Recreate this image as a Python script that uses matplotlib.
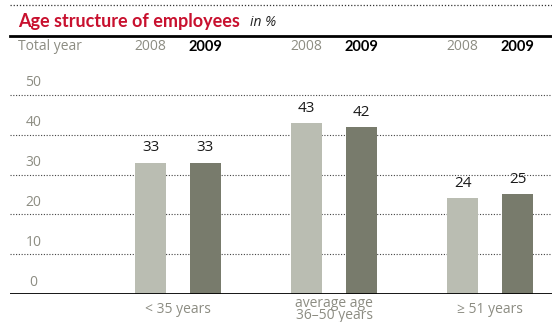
import matplotlib.pyplot as plt
from matplotlib.lines import Line2D

plt.rcParams['font.family'] = ['Open Sans', 'DejaVu Sans']

# data
groups = ['< 35 years', 'average age\n36\u201350 years', '\u2265 51 years']
years = ['2008', '2009']
vals_2008 = [33, 43, 24]
vals_2009 = [33, 42, 25]
yticks = [0, 10, 20, 30, 40, 50]

c2008 = '#babdb2'
c2009 = '#787b6c'
grey = '#8c8c82'
red = '#c8102e'
bold_font = ['Lato', 'DejaVu Sans']

W, H = 552, 322
fig = plt.figure(figsize=(W / 100, H / 100), dpi=100)

# main axes in pixel coords: x 10..552, baseline at y=294, 0..60 scale
ax_left, ax_right = 10, 552
ax_bottom, ax_top = 294, 55
ax = fig.add_axes([ax_left / W, 1 - ax_bottom / H, (ax_right - ax_left) / W, (ax_bottom - ax_top) / H])
ax.set_xlim(-1.077, 2.397)
ax.set_ylim(0, 60)
ax.axis('off')

off = 0.176
bw = 0.199
xs = range(len(groups))
for i in xs:
    for val, dx, col in [(vals_2008[i], -off, c2008), (vals_2009[i], off, c2009)]:
        ax.bar(i + dx, val, width=bw, color=col, zorder=3)
        ax.text(i + dx, val + 1.8, str(val), ha='center', va='bottom',
                fontsize=11, color='#1a1a1a')

# dotted grid lines with tick labels above
for t in yticks[1:]:
    ax.axhline(t, color='#444444', lw=0.8, ls=(0, (1, 1.5)), zorder=1)
for t in yticks:
    ax.text(-0.926, t + 3.0, str(t), ha='center', va='center', fontsize=10, color=grey)

# baseline
ax.axhline(0, color='black', lw=2, zorder=4)

# category labels
for i, g in enumerate(groups):
    ax.text(i, -3.9, g, ha='center', va='center', fontsize=10, color=grey,
            linespacing=0.8)

# header
fig.add_artist(Line2D([10 / W, 1], [1 - 5 / H, 1 - 5 / H], color='#333333', lw=0.9,
                      ls=(0, (1, 1.5))))
fig.text(18 / W, 1 - 22 / H, 'Age structure of employees', fontsize=13.0, fontweight='bold',
         family=bold_font, color=red, va='center', ha='left')
fig.text(250 / W, 1 - 22 / H, 'in %', fontsize=10, fontstyle='italic', color='#222222',
         va='center', ha='left')
fig.add_artist(Line2D([10 / W, 1], [1 - 36 / H, 1 - 36 / H], color='black', lw=2))
fig.text(18 / W, 1 - 47 / H, 'Total year', fontsize=10, color=grey, va='center', ha='left')
for i in xs:
    for dx, y, bold in [(-off, years[0], False), (off, years[1], True)]:
        xd = ax.transData.transform((i + dx, 0))[0]
        if bold:
            fig.text(xd / fig.bbox.width, 1 - 47 / H, y, fontsize=10.5, ha='center', va='center',
                     color='black', fontweight='bold', family=bold_font)
        else:
            fig.text(xd / fig.bbox.width, 1 - 47 / H, y, fontsize=10, ha='center', va='center',
                     color=grey)

fig.savefig('out.png', dpi=100)
